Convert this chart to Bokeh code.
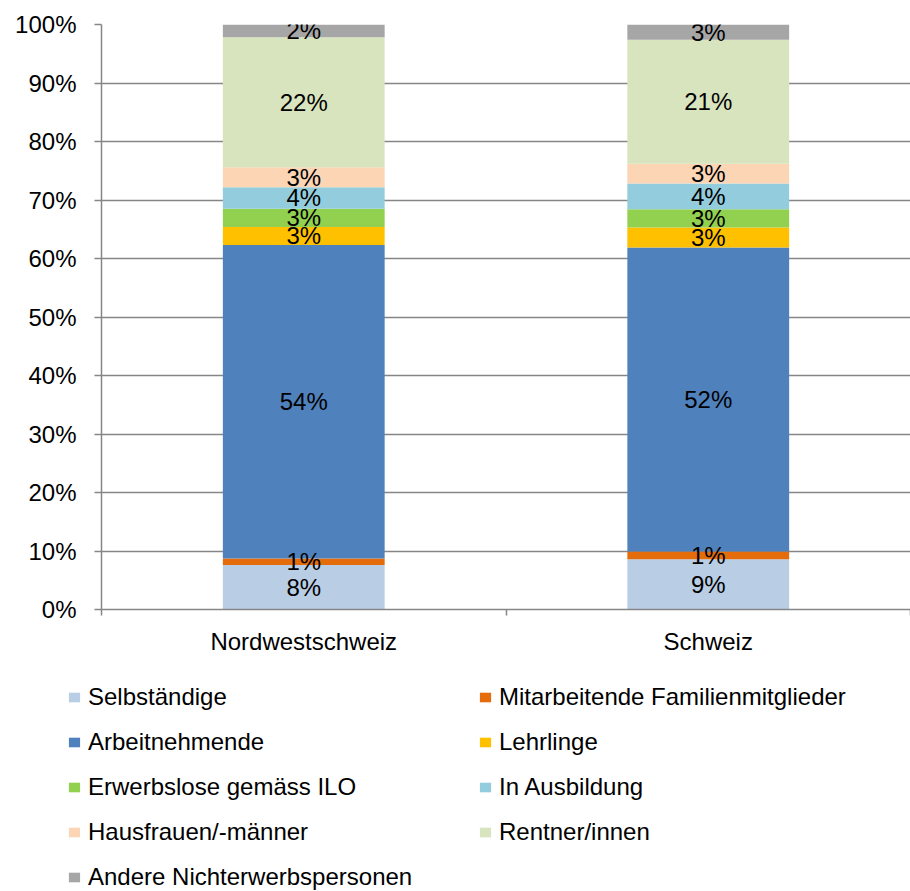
from bokeh.plotting import figure
from bokeh.layouts import column
from bokeh.models import (ColumnDataSource, FactorRange, LinearAxis, FixedTicker,
                          Legend, LegendItem, Range1d, Grid)
from bokeh.core.properties import value
from bokeh.embed import file_html
from bokeh.resources import INLINE

categories = ["Nordwestschweiz", "Schweiz"]
series_names = ["Selbständige", "Mitarbeitende Familienmitglieder", "Arbeitnehmende",
                "Lehrlinge", "Erwerbslose gemäss ILO", "In Ausbildung",
                "Hausfrauen/-männer", "Rentner/innen", "Andere Nichterwerbspersonen"]
selbstaendige = [7.6, 8.6]
mitarbeitende = [1.1, 1.3]
arbeitnehmende = [53.6, 52.0]
lehrlinge = [3.1, 3.4]
erwerbslose = [3.1, 3.1]
ausbildung = [3.7, 4.4]
hausfrauen = [3.4, 3.4]
rentner = [22.2, 21.2]
andere = [2.2, 2.6]
colors = ["#B9CDE5", "#E46C0A", "#4F81BD", "#FFC000", "#92D050",
          "#93CDDD", "#FCD5B5", "#D7E4BD", "#A6A6A6"]
y_ticks = [0, 10, 20, 30, 40, 50, 60, 70, 80, 90, 100]
y_tick_labels = ["0%", "10%", "20%", "30%", "40%", "50%", "60%", "70%", "80%", "90%", "100%"]

series = [selbstaendige, mitarbeitende, arbeitnehmende, lehrlinge, erwerbslose,
          ausbildung, hausfrauen, rentner, andere]
keys = [f"s{i}" for i in range(len(series))]

FONT = "Liberation Sans"
FS = "24px"
GRAY = "#868686"

data = {"cat": categories}
for k, s in zip(keys, series):
    data[k] = s
source = ColumnDataSource(data)

# ---- chart ----
p = figure(x_range=FactorRange(*categories), y_range=Range1d(0, 100),
           width=910, height=665, output_backend="svg", toolbar_location=None,
           x_axis_type=None, y_axis_type=None,
           min_border_left=101, min_border_right=0, min_border_top=24, min_border_bottom=56)
p.outline_line_color = None
p.background_fill_color = "white"
p.border_fill_color = "white"

p.add_layout(Grid(dimension=1, ticker=FixedTicker(ticks=y_ticks),
                  grid_line_color=GRAY, grid_line_width=1.5))

p.vbar_stack(keys, x="cat", width=0.4, color=colors, line_color=None, source=source)

lx, ly, lt = [], [], []
for ci, c in enumerate(categories):
    base = 0.0
    for s in series:
        v = s[ci]
        lx.append(c)
        ly.append(base + v / 2)
        lt.append(f"{round(v)}%")
        base += v
p.text(x="x", y="y", text="t", source=ColumnDataSource(dict(x=lx, y=ly, t=lt)),
       text_font=value(FONT), text_font_size=FS, text_color="black",
       text_align="center", text_baseline="middle")

yaxis = LinearAxis(ticker=FixedTicker(ticks=y_ticks),
                   major_label_overrides=dict(zip(y_ticks, y_tick_labels)),
                   axis_line_color=GRAY, axis_line_width=1.5,
                   major_tick_line_color=GRAY, major_tick_line_width=1.5,
                   major_tick_out=7, major_tick_in=0,
                   minor_tick_line_color=None,
                   major_label_standoff=18,
                   major_label_text_font=FONT, major_label_text_font_size=FS,
                   major_label_text_color="black")
p.add_layout(yaxis, "left")

centers = [i + 0.5 for i in range(len(categories))]
bounds = [i for i in range(len(categories) + 1)]
xaxis = LinearAxis(ticker=FixedTicker(ticks=centers, minor_ticks=bounds),
                   major_label_overrides=dict(zip(centers, categories)),
                   axis_line_color=GRAY, axis_line_width=1.5,
                   major_tick_line_color=None, major_tick_out=0, major_tick_in=0,
                   minor_tick_line_color=GRAY, minor_tick_line_width=1.5,
                   minor_tick_out=6, minor_tick_in=0,
                   major_label_standoff=12,
                   major_label_text_font=FONT, major_label_text_font_size=FS,
                   major_label_text_color="black")
p.add_layout(xaxis, "below")

# ---- legend (separate panel below the chart) ----
p2 = figure(x_range=FactorRange(*categories), y_range=Range1d(200, 300),
            width=910, height=226, output_backend="svg", toolbar_location=None,
            x_axis_type=None, y_axis_type=None,
            min_border_left=0, min_border_right=0, min_border_top=0, min_border_bottom=0)
if "frame_align" in p2.properties():
    p2.frame_align = False
    p.frame_align = False
p2.outline_line_color = None
p2.background_fill_color = "white"
p2.border_fill_color = "white"
lrs = p2.vbar_stack(keys, x="cat", width=0.4, color=colors, line_color=None, source=source)

items = [LegendItem(label=n, renderers=[r]) for n, r in zip(series_names, lrs)]
legend = Legend(items=items, location=(67, 0), ncols=2, orientation="horizontal",
                glyph_width=14, glyph_height=12, label_standoff=7,
                label_text_font=FONT, label_text_font_size=FS, label_text_color="black",
                label_height=28, label_width=373, spacing=17, padding=0, margin=0,
                border_line_color=None, background_fill_alpha=0)
p2.add_layout(legend)

open("out.html", "w").write(file_html(column(p, p2, spacing=0), INLINE))
